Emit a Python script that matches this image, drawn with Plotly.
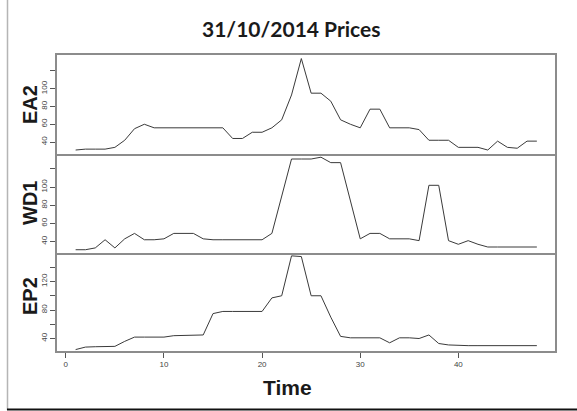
import plotly.graph_objects as go

time = list(range(1, 49))

ea2 = [31, 32, 32, 32, 34, 42, 55, 60, 56, 56, 56, 56, 56, 56, 56, 56,
       44, 44, 51, 51, 56, 65, 93, 134, 95, 95, 86, 65, 60, 56, 77, 77,
       56, 56, 56, 54, 42, 42, 42, 34, 34, 34, 31, 41, 34, 33, 41, 41]

wd1 = [31, 31, 33, 42, 33, 43, 49, 42, 42, 43, 49, 49, 49, 43, 42, 42,
       42, 42, 42, 42, 49, 90, 131, 131, 131, 133, 127, 127, 86, 43,
       49, 49, 43, 43, 43, 41, 102, 102, 41, 37, 41, 37, 34, 34, 34, 34, 34, 34]

ep2 = [24.5, 28, 28.5, 29, 29, 36, 42, 42, 42, 42, 44, 44, 44, 45, 75, 78,
       78, 78, 78, 78, 97, 100, 156, 155, 100, 100, 70, 43, 41, 41, 41, 41,
       34, 41, 41, 40, 45, 33, 31, 30, 30, 30, 30, 30, 30, 30, 30, 30]

series_names = ["EA2", "WD1", "EP2"]
series = [ea2, wd1, ep2]
y_ranges = [[26.5, 138], [27.4, 136.5], [22.5, 160]]
y_tickvals = [[40, 60, 80, 100, 120], [40, 60, 80, 100, 120], [40, 60, 80, 100, 120, 140]]
y_ticktext = [["40", "60", "80", "100", ""], ["40", "60", "80", "100", ""],
              ["40", "", "80", "", "120", ""]]
x_tickvals = [0, 10, 20, 30, 40]

domains = [[0.6655, 1.0], [0.3311, 0.6655], [0.0, 0.3311]]

fig = go.Figure()
for i, (name, vals) in enumerate(zip(series_names, series)):
    fig.add_trace(go.Scatter(
        x=time, y=vals, mode="lines", name=name,
        line=dict(color="#3a3a3a", width=1),
        xaxis="x" if i == 0 else f"x{i+1}",
        yaxis="y" if i == 0 else f"y{i+1}",
        showlegend=False, hoverinfo="skip",
    ))

frame_col = "#8c8c8c"
tickfont = dict(family="Liberation Sans, Arial", size=8, color="#444444")

layout = dict(
    width=577, height=411,
    margin=dict(l=57, r=22, t=55, b=60, autoexpand=False),
    paper_bgcolor="white", plot_bgcolor="white",
    showlegend=False,
)
for i in range(3):
    xs = "xaxis" if i == 0 else f"xaxis{i+1}"
    ys = "yaxis" if i == 0 else f"yaxis{i+1}"
    ya = "y" if i == 0 else f"y{i+1}"
    xa = "x" if i == 0 else f"x{i+1}"
    bottom = (i == 2)
    layout[xs] = dict(
        anchor=ya, domain=[0, 1], range=[-0.9, 49.85],
        showgrid=False, zeroline=False, automargin=False,
        showline=True, mirror=(i == 0), linecolor=frame_col, linewidth=1.5,
        tickvals=x_tickvals if bottom else [],
        ticks="outside" if bottom else "", ticklen=5, tickcolor="#555555",
        showticklabels=bottom, tickfont=tickfont,
        matches=None if i == 0 else "x",
    )
    layout[ys] = dict(
        anchor=xa, domain=domains[i], range=y_ranges[i],
        showgrid=False, zeroline=False, automargin=False,
        showline=True, mirror=True, linecolor=frame_col, linewidth=1.5,
        tickvals=y_tickvals[i], ticktext=y_ticktext[i],
        ticks="outside", ticklen=5, tickcolor="#555555",
        tickangle=-90, tickfont=tickfont,
    )
fig.update_layout(**layout)

plot_l, plot_r, plot_t, plot_b = 57, 555, 55, 351
def px_x(px):
    return (px - plot_l) / (plot_r - plot_l)
def px_y(py):
    return (plot_b - py) / (plot_b - plot_t)

annotations = [
    dict(text="31/10/2014 Prices", x=px_x(291), y=px_y(29), xref="paper", yref="paper",
         showarrow=False, xanchor="center", yanchor="middle",
         font=dict(family="Lato, Open Sans", size=21, color="#1a1a1a", weight="bold")),
    dict(text="Time", x=px_x(287), y=px_y(387), xref="paper", yref="paper",
         showarrow=False, xanchor="center", yanchor="middle",
         font=dict(family="Liberation Sans, Arial", size=21, color="#1a1a1a", weight="bold")),
]
label_centers = [105, 203, 296]
for name, cy in zip(series_names, label_centers):
    annotations.append(dict(
        text=name, x=px_x(30), y=px_y(cy), xref="paper", yref="paper",
        showarrow=False, xanchor="center", yanchor="middle", textangle=-90,
        font=dict(family="Liberation Sans, Arial", size=20, color="#1a1a1a", weight="bold")))
fig.update_layout(annotations=annotations)

fig.update_layout(shapes=[
    dict(type="line", xref="paper", yref="paper",
         x0=px_x(7.5), x1=px_x(7.5), y0=px_y(0), y1=px_y(410),
         line=dict(color="#b5b5b5", width=1.5)),
    dict(type="line", xref="paper", yref="paper",
         x0=px_x(7), x1=px_x(577), y0=px_y(409.5), y1=px_y(409.5),
         line=dict(color="#111111", width=2)),
])

fig.write_html("out.html",
               config={"displayModeBar": False},
               post_script="document.body.style.margin='0';document.body.style.overflow='hidden';")
